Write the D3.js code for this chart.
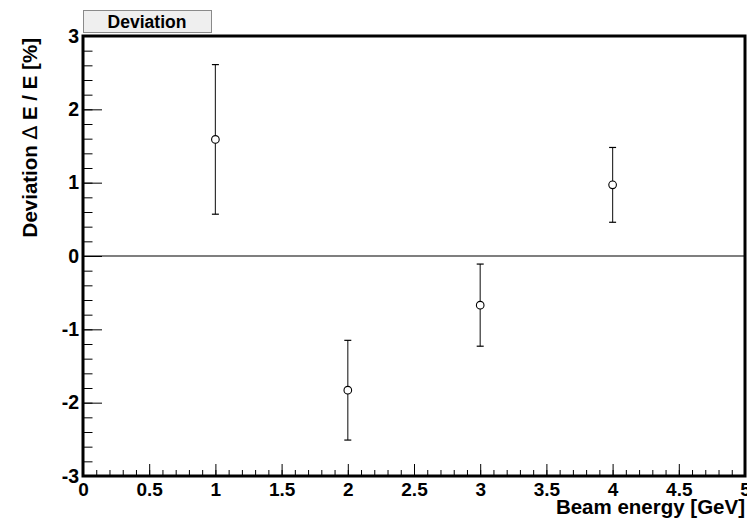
<!DOCTYPE html>
<html><head><meta charset="utf-8">
<script src="https://cdn.jsdelivr.net/npm/d3@7"></script>
<style>body{margin:0;background:#fff}svg{display:block}text{font-family:"Liberation Sans",Arial,Helvetica,sans-serif;font-weight:bold}</style>
</head><body><svg id="c" width="747" height="524"></svg>
<script>
const energies = [1, 2, 3, 4];
const deviations = [1.59, -1.83, -0.67, 0.97];
const errors = [1.02, 0.68, 0.56, 0.51];
const xTicks = [0, 0.5, 1, 1.5, 2, 2.5, 3, 3.5, 4, 4.5, 5];
const yTicks = [-3, -2, -1, 0, 1, 2, 3];
const title = "Deviation";
const xTitle = "Beam energy [GeV]";
const yTitleParts = ["Deviation ", "\u2206", " E / E [%]"];

const svg = d3.select("#c");
const L = 83, R = 745, T = 36, B = 476;
const x = d3.scaleLinear().domain([0, 5]).range([L, R]);
const y = d3.scaleLinear().domain([-3, 3]).range([B, T]);

// title box
svg.append("rect").attr("x", 83.5).attr("y", 10.5).attr("width", 128).attr("height", 22)
  .attr("fill", "#efefef").attr("stroke", "#8a8a8a").attr("stroke-width", 1);
svg.append("text").attr("x", 147).attr("y", 27.5).attr("text-anchor", "middle")
  .attr("font-size", 17.5).text(title);

// minor ticks
const xMinor = d3.range(0, 5.0001, 0.1).map(v => +v.toFixed(2));
const yMinor = d3.range(-3, 3.0001, 0.2).map(v => +v.toFixed(2));
svg.append("g").attr("transform", `translate(0,${B})`)
  .call(d3.axisBottom(x).tickValues(xMinor).tickSize(-6).tickFormat(""))
  .call(g => g.select(".domain").remove());
svg.append("g").attr("transform", `translate(${L},0)`)
  .call(d3.axisLeft(y).tickValues(yMinor).tickSize(-9.5).tickFormat(""))
  .call(g => g.select(".domain").remove());

// major ticks + labels
const gx = svg.append("g").attr("transform", `translate(0,${B})`)
  .call(d3.axisBottom(x).tickValues(xTicks).tickSize(-12).tickPadding(6).tickFormat(d => String(d)));
gx.select(".domain").remove();
gx.selectAll("text").attr("font-size", 19).attr("fill", "#000").attr("dy", "0.71em").attr("y", 6.5);
const gy = svg.append("g").attr("transform", `translate(${L},0)`)
  .call(d3.axisLeft(y).tickValues(yTicks).tickSize(-19).tickPadding(4).tickFormat(d => String(d)));
gy.select(".domain").remove();
gy.selectAll("text").attr("font-size", 19.5).attr("fill", "#000");
svg.selectAll(".tick line").attr("stroke", "#000").attr("stroke-width", 1);

// frame
svg.append("rect").attr("x", L).attr("y", T).attr("width", R - L).attr("height", B - T)
  .attr("fill", "none").attr("stroke", "#000").attr("stroke-width", 3);

// zero line
svg.append("line").attr("x1", x(0)).attr("x2", x(5)).attr("y1", y(0)).attr("y2", y(0))
  .attr("stroke", "#000").attr("stroke-width", 1.2);

// error bars
const pts = energies.map((e, i) => ({x: e, y: deviations[i], err: errors[i]}));
const gp = svg.append("g");
gp.selectAll(".eb").data(pts).join("line")
  .attr("x1", d => x(d.x)).attr("x2", d => x(d.x))
  .attr("y1", d => y(d.y + d.err)).attr("y2", d => y(d.y - d.err))
  .attr("stroke", "#333").attr("stroke-width", 1.2);
["top", "bot"].forEach(k => {
  gp.selectAll(".cap" + k).data(pts).join("line")
    .attr("x1", d => x(d.x) - 3.5).attr("x2", d => x(d.x) + 3.5)
    .attr("y1", d => y(k === "top" ? d.y + d.err : d.y - d.err))
    .attr("y2", d => y(k === "top" ? d.y + d.err : d.y - d.err))
    .attr("stroke", "#000").attr("stroke-width", 1.2);
});
gp.selectAll("circle").data(pts).join("circle")
  .attr("cx", d => x(d.x)).attr("cy", d => y(d.y)).attr("r", 3.8)
  .attr("fill", "#fff").attr("stroke", "#000").attr("stroke-width", 1.1);

// axis titles
svg.append("text").attr("x", R).attr("y", 514).attr("text-anchor", "end")
  .attr("font-size", 20.5).text(xTitle);
const yt = svg.append("text").attr("transform", `translate(37,${T + 2}) rotate(-90)`)
  .attr("text-anchor", "end").attr("font-size", 20.5);
yt.append("tspan").text(yTitleParts[0]);
yt.append("tspan").attr("font-family", "DejaVu Sans").attr("font-weight", "normal").text(yTitleParts[1]);
yt.append("tspan").text(yTitleParts[2]);
</script></body></html>
